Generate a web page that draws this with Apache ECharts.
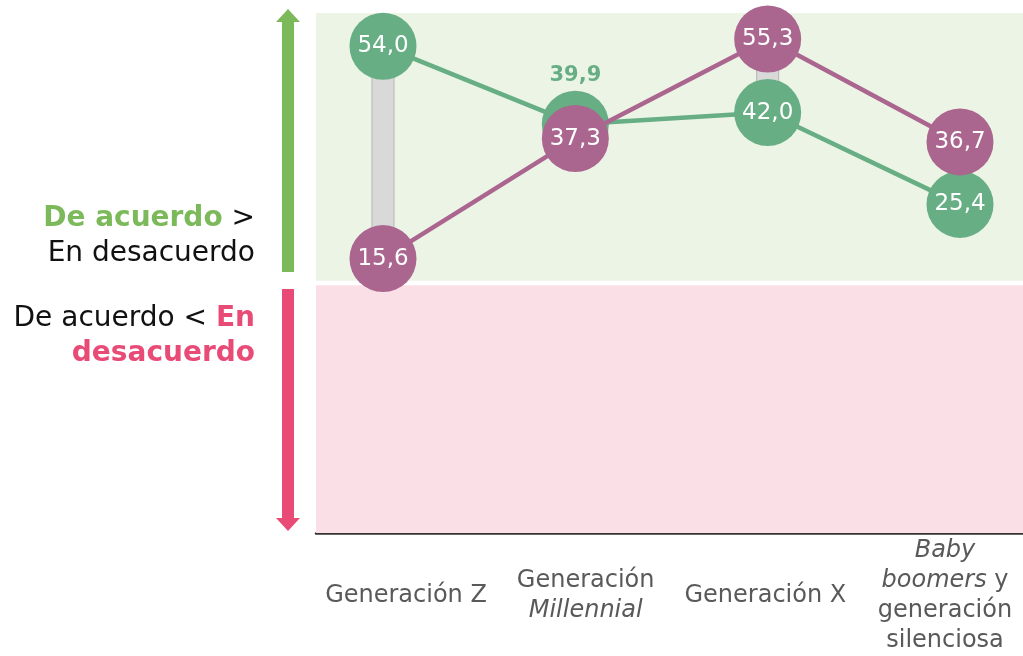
<!DOCTYPE html>
<html>
<head>
<meta charset="utf-8">
<script src="https://cdn.jsdelivr.net/npm/echarts@6/dist/echarts.min.js"></script>
<style>html,body{margin:0;padding:0;background:#fff;}#c{width:1023px;height:656px;}</style>
</head>
<body>
<div id="c"></div>
<script>
// ---- data ----
const categories = ['Generación Z', 'Generación Millennial', 'Generación X', 'Baby boomers y generación silenciosa'];
const categoryLabels = ['Generación Z', 'Generación\n{i|Millennial}', 'Generación X', '{i|Baby}\n{i|boomers} y\ngeneración\nsilenciosa'];
const greenValues = [54.0, 39.9, 42.0, 25.4];
const purpleValues = [15.6, 37.3, 55.3, 36.7];
const greenBand = [11.6, 60];   // "De acuerdo > En desacuerdo" zone
const pinkBand = [-34, 10.8];   // "De acuerdo < En desacuerdo" zone
const yMin = -34, yMax = 60;

const FONT = "'DejaVu Sans', sans-serif";
const GREEN = '#67ae84', PURPLE = '#ab668f';

const chart = echarts.init(document.getElementById('c'), null, {renderer: 'canvas'});

const fmt = v => v.toFixed(1).replace('.', ',');

function pointData(values, specialIdx) {
  return values.map((v, i) => {
    if (i === specialIdx) {
      return {value: v, label: {position: 'top', distance: 5, color: GREEN, fontWeight: 'bold', fontSize: 21}};
    }
    return v;
  });
}

const option = {
  animation: false,
  grid: [
    {left: 383, width: 577, top: 13, height: 520},   // points
    {left: 406, width: 539, top: 13, height: 520},   // category labels
    {left: 316, right: 0, top: 13, height: 520}      // bands + baseline
  ],
  xAxis: [
    {gridIndex: 0, type: 'category', data: categories, show: false, boundaryGap: false},
    {gridIndex: 1, type: 'category', data: categoryLabels, boundaryGap: false,
      axisLine: {show: false}, axisTick: {show: false},
      axisLabel: {interval: 0, margin: 65, verticalAlign: 'middle', color: '#595959', fontSize: 24, fontFamily: FONT, lineHeight: 30,
        rich: {i: {fontStyle: 'italic', fontSize: 24, fontFamily: FONT, color: '#595959', lineHeight: 30}}}
    },
    {gridIndex: 2, type: 'value', min: 0, max: 1, axisLabel: {show: false}, axisTick: {show: false}, splitLine: {show: false},
      axisLine: {show: true, onZero: false, lineStyle: {color: '#333', width: 2.5}}}
  ],
  yAxis: [
    {gridIndex: 0, type: 'value', min: yMin, max: yMax, show: false},
    {gridIndex: 1, type: 'value', min: yMin, max: yMax, show: false},
    {gridIndex: 2, type: 'value', min: yMin, max: yMax, show: false}
  ],
  series: [
    {
      type: 'line', xAxisIndex: 2, yAxisIndex: 2, data: [], silent: true, z: 0,
      markArea: {silent: true, data: [
        [{yAxis: greenBand[0], itemStyle: {color: '#ecf4e6'}}, {yAxis: greenBand[1]}],
        [{yAxis: pinkBand[0], itemStyle: {color: '#fbdfe6'}}, {yAxis: pinkBand[1]}]
      ]}
    },
    {
      type: 'custom', xAxisIndex: 0, yAxisIndex: 0, z: 1, clip: false,
      data: categories.map((c, i) => [i, greenValues[i], purpleValues[i]]),
      renderItem: function (params, api) {
        const p1 = api.coord([api.value(0), api.value(1)]);
        const p2 = api.coord([api.value(0), api.value(2)]);
        const w = 22;
        return {
          type: 'rect',
          shape: {x: p1[0] - w / 2, y: Math.min(p1[1], p2[1]), width: w, height: Math.abs(p1[1] - p2[1])},
          style: {fill: '#d9d9d9', stroke: '#b5b5b5', lineWidth: 1}
        };
      }
    },
    {
      type: 'line', name: 'De acuerdo', xAxisIndex: 0, yAxisIndex: 0, z: 2, clip: false,
      data: pointData(greenValues, 1),
      symbol: 'circle', symbolSize: 67,
      lineStyle: {color: GREEN, width: 4.5},
      itemStyle: {color: GREEN},
      label: {show: true, position: 'inside', color: '#fff', fontSize: 23, fontFamily: FONT, formatter: p => fmt(p.value)}
    },
    {
      type: 'line', name: 'En desacuerdo', xAxisIndex: 0, yAxisIndex: 0, z: 3, clip: false,
      data: purpleValues,
      symbol: 'circle', symbolSize: 67,
      lineStyle: {color: PURPLE, width: 4.5},
      itemStyle: {color: PURPLE},
      label: {show: true, position: 'inside', color: '#fff', fontSize: 23, fontFamily: FONT, formatter: p => fmt(p.value)}
    }
  ],
  graphic: [
    // green up arrow
    {type: 'rect', shape: {x: 282, y: 21, width: 12, height: 251}, style: {fill: '#7cb95a'}},
    {type: 'polygon', shape: {points: [[288, 9], [300, 22], [276, 22]]}, style: {fill: '#7cb95a'}},
    // pink down arrow
    {type: 'rect', shape: {x: 282, y: 289, width: 12, height: 230}, style: {fill: '#e94b77'}},
    {type: 'polygon', shape: {points: [[288, 531], [300, 518], [276, 518]]}, style: {fill: '#e94b77'}},
    {
      type: 'text', x: 255, y: 236,
      style: {
        text: '{g|De acuerdo} >\nEn desacuerdo',
        align: 'right', verticalAlign: 'middle',
        font: "28px 'DejaVu Sans', sans-serif", fill: '#111', lineHeight: 35,
        rich: {g: {fill: '#7cb95a', fontWeight: 'bold', fontSize: 28, fontFamily: FONT, lineHeight: 35}}
      }
    },
    {
      type: 'text', x: 255, y: 336,
      style: {
        text: 'De acuerdo < {p|En}\n{p|desacuerdo}',
        align: 'right', verticalAlign: 'middle',
        font: "28px 'DejaVu Sans', sans-serif", fill: '#111', lineHeight: 35,
        rich: {p: {fill: '#e94b77', fontWeight: 'bold', fontSize: 28, fontFamily: FONT, lineHeight: 35}}
      }
    }
  ]
};
chart.setOption(option);
</script>
</body>
</html>
